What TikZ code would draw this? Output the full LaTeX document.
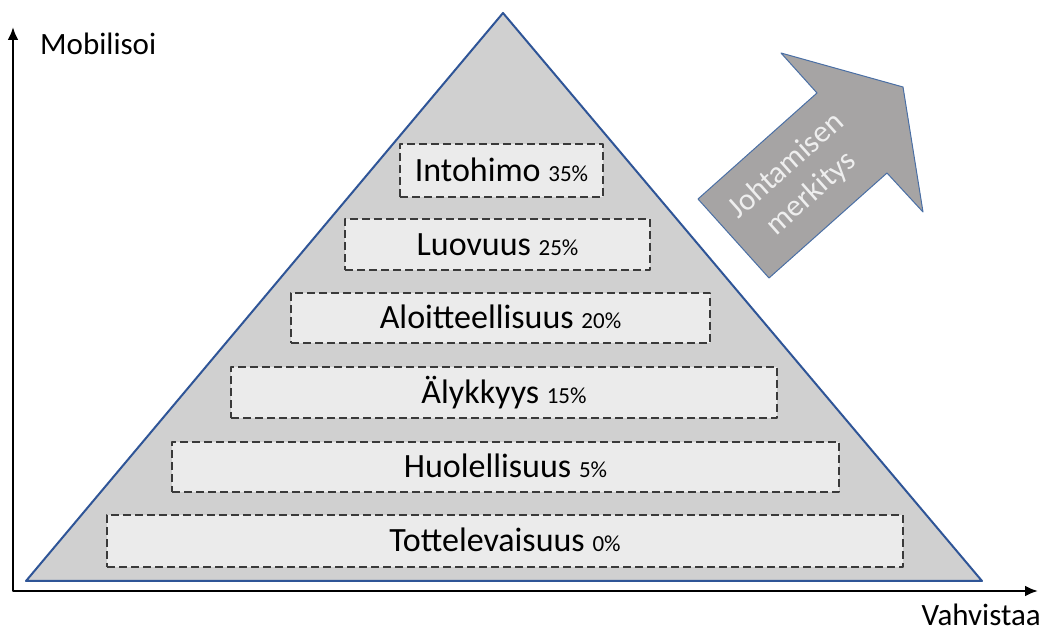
\documentclass[tikz,border=0pt]{standalone}
\usepackage{fontspec}
\setmainfont{Carlito}
\usepackage{tikz}
\usetikzlibrary{arrows,arrows.meta,shapes,calc}

\definecolor{pyrfill}{HTML}{D0D0D0}
\definecolor{pyrline}{HTML}{2F5597}
\definecolor{tierfill}{HTML}{EBEBEB}
\definecolor{tierline}{HTML}{3A3A3A}
\definecolor{arrfill}{HTML}{A6A4A4}
\definecolor{arrline}{HTML}{4A6FA5}
\definecolor{arrtext}{HTML}{EEEEEE}

\newcommand{\pct}[1]{{\fontsize{23}{26}\selectfont #1}}

\begin{document}
\begin{tikzpicture}[join=round]
		\tikzstyle{tier}=[draw=tierline, dash pattern=on 8pt off 4pt, line width=1.4pt, fill=tierfill, inner sep=0pt, text height=22pt, text depth=0pt, font=\fontsize{34}{36}\selectfont]
		\tikzstyle{axis}=[line width=2.5pt, {Latex[length=13pt,width=11pt]}-{Latex[length=13pt,width=11pt]}]
		\tikzstyle{axlabel}=[inner sep=0pt, font=\fontsize{31}{34}\selectfont]
		
		\useasboundingbox (0,0) rectangle (1044pt, 631pt);
		
		\coordinate (ytop) at (13pt, 604pt);
		\coordinate (xend) at (1038pt, 40pt);
		\draw[axis] (ytop) |- (xend);
		
		\draw[pyrline, line width=2pt, fill=pyrfill] (26pt, 50pt) -- (503pt, 618pt) -- (982pt, 50pt) -- cycle;
		
		\node[tier, minimum width=203pt, minimum height=53pt] (t1) at (501.5pt, 460.5pt) {Intohimo \pct{35\%}};
		\node[tier, minimum width=305pt, minimum height=51pt] (t2) at (497.5pt, 386.5pt) {Luovuus \pct{25\%}};
		\node[tier, minimum width=419pt, minimum height=50pt] (t3) at (500.5pt, 313pt) {Aloitteellisuus \pct{20\%}};
		\node[tier, minimum width=546pt, minimum height=51pt] (t4) at (504pt, 238.5pt) {Älykkyys \pct{15\%}};
		\node[tier, minimum width=667pt, minimum height=50pt] (t5) at (505.5pt, 164pt) {Huolellisuus \pct{5\%}};
		\node[tier, minimum width=796pt, minimum height=52pt] (t6) at (505pt, 90pt) {Tottelevaisuus \pct{0\%}};
		
		\draw[arrline, line width=1pt, fill=arrfill] (698pt, 432pt) -- (817pt, 538pt) -- (781pt, 578pt) -- (903pt, 544pt) -- (923pt, 419pt) -- (887pt, 458pt) -- (769pt, 353pt) -- cycle;
		\node[rotate=41.7, align=center, inner sep=0pt, text=arrtext, font=\fontsize{31}{37}\selectfont] (arrlabel) at (799pt, 451pt) {Johtamisen\\merkitys};
		
		\node[axlabel, anchor=base west] (ylabel) at (40pt, 576pt) {Mobilisoi};
		\node[axlabel, anchor=base east] (xlabel) at (1041pt, 5pt) {Vahvistaa};
	\end{tikzpicture}
\end{document}
